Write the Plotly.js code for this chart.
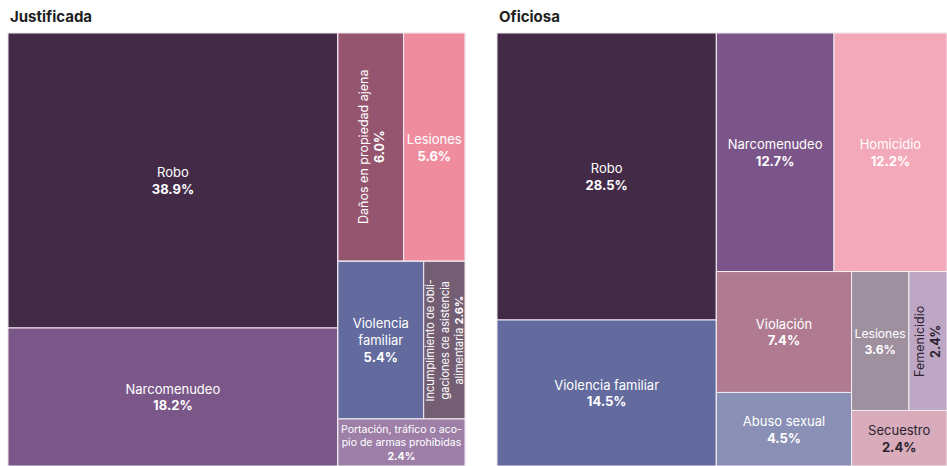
<!DOCTYPE html>
<html><head><meta charset="utf-8">
<script src="https://cdn.plot.ly/plotly-3.0.1.min.js"></script>
<style>html,body{margin:0;padding:0;background:#fff}#chart{width:947px;height:466px}</style>
</head><body><div id="chart"></div>
<script>
// ---- Data: Justificada ----
const justLabels = ['Robo','Narcomenudeo','Daños en propiedad ajena','Lesiones','Violencia familiar','Incumplimiento de obligaciones de asistencia alimentaria','Portación, tráfico o acopio de armas prohibidas'];
const justValues = [38.9, 18.2, 6.0, 5.6, 5.4, 2.6, 2.4];
const justDisplay = ['Robo','Narcomenudeo','Daños en propiedad ajena','Lesiones','Violencia<br>familiar','Incumplimiento de obli-<br>gaciones de asistencia<br>alimentaria','Portación, tráfico o aco-<br>pio de armas prohibidas'];
const justRotated = [false, false, true, false, false, true, false];
const justInline = [false, false, false, false, false, true, false];
const justGroups = ['A','A','C','C','E','E','D2'];
const justGroupNames = ['A','B','C','D','D2','E'];
const justGroupParents = ['','','B','B','D','D2'];
const justColors = ['#432a47','#7b5789','#96556f','#ef8d9f','#626a9e','#735e74','#9d7fa8'];
const justTextColors = ['#ffffff','#ffffff','#ffffff','#ffffff','#ffffff','#ffffff','#ffffff'];

// ---- Data: Oficiosa ----
const ofiLabels = ['Robo','Violencia familiar','Narcomenudeo','Homicidio','Violación','Abuso sexual','Lesiones','Femenicidio','Secuestro'];
const ofiValues = [28.5, 14.5, 12.7, 12.2, 7.4, 4.5, 3.6, 2.4, 2.4];
const ofiDisplay = ['Robo','Violencia familiar','Narcomenudeo','Homicidio','Violación','Abuso sexual','Lesiones','Femenicidio','Secuestro'];
const ofiRotated = [false, false, false, false, false, false, false, true, false];
const ofiInline = [false, false, false, false, false, false, false, false, false];
const ofiGroups = ['A','A','C','C','F','F','H','H','G'];
const ofiGroupNames = ['A','B','C','D','F','G','H'];
const ofiGroupParents = ['','','B','B','D','D','G'];
const ofiColors = ['#432a47','#626a9e','#7b5589','#f4a9ba','#b07b91','#8a90b5','#9e909f','#bea7c4','#d8acbb'];
const ofiTextColors = ['#ffffff','#ffffff','#ffffff','#ffffff','#ffffff','#ffffff','#ffffff','#2b2230','#2b2230'];

const FONT = 'Inter, "Noto Sans", sans-serif';
const ROT_FONT_SIZE = {'Incumplimiento de obligaciones de asistencia alimentaria': 11};
const rotatedInfo = {};

function buildTrace(name, labels, values, display, rotated, inline, groups, groupNames, groupParents, colors, textColors, domainX) {
  const ids = [name], parents = [''], vals = [0], labs = [name], cols = ['rgba(0,0,0,0)'], texts = [''], tcols = ['#ffffff'];
  groupNames.forEach((g, i) => {
    ids.push(name + '/' + g);
    parents.push(groupParents[i] ? name + '/' + groupParents[i] : name);
    vals.push(0); labs.push(g); cols.push('rgba(0,0,0,0)'); texts.push(''); tcols.push('#ffffff');
  });
  labels.forEach((l, i) => {
    const id = name + ':' + l;
    const pct = '<b>' + values[i].toFixed(1) + '%</b>';
    const full = display[i] + (inline[i] ? ' ' : '<br>') + pct;
    ids.push(id);
    parents.push(name + '/' + groups[i]);
    vals.push(values[i]);
    labs.push(l);
    cols.push(colors[i]);
    texts.push(rotated[i] ? '' : full);
    tcols.push(textColors[i]);
    if (rotated[i]) rotatedInfo[id] = {text: full, color: textColors[i], size: ROT_FONT_SIZE[l] || 12.5};
  });
  return {
    type: 'treemap', ids: ids, parents: parents, labels: labs, values: vals,
    branchvalues: 'remainder', sort: false,
    text: texts, textinfo: 'text', textposition: 'middle center',
    textfont: {family: FONT, size: 13, color: tcols},
    marker: {colors: cols, line: {width: 1, color: '#f3eef3'}, pad: {t: 0, l: 0, r: 0, b: 0}},
    tiling: {packing: 'slice-dice', pad: 0},
    pathbar: {visible: false}, leaf: {opacity: 1},
    hoverinfo: 'none',
    domain: {x: domainX, y: [0, 1]}
  };
}

const traces = [
  buildTrace('Justificada', justLabels, justValues, justDisplay, justRotated, justInline, justGroups, justGroupNames, justGroupParents, justColors, justTextColors, [0, 457/939]),
  buildTrace('Oficiosa', ofiLabels, ofiValues, ofiDisplay, ofiRotated, ofiInline, ofiGroups, ofiGroupNames, ofiGroupParents, ofiColors, ofiTextColors, [489/939, 1])
];

const titleAnns = [
  {text: '<b>Justificada</b>', xref: 'paper', yref: 'paper', x: 0, y: 1 + 17/433, xanchor: 'left', yanchor: 'middle', showarrow: false, font: {family: FONT, size: 15, color: '#222222'}},
  {text: '<b>Oficiosa</b>', xref: 'paper', yref: 'paper', x: 489/939, y: 1 + 17/433, xanchor: 'left', yanchor: 'middle', showarrow: false, font: {family: FONT, size: 15, color: '#222222'}}
];

const layout = {
  width: 947, height: 466,
  margin: {l: 8, r: 0, t: 33, b: 0, pad: 0},
  paper_bgcolor: '#ffffff',
  font: {family: FONT},
  showlegend: false,
  annotations: titleAnns
};

const gd = document.getElementById('chart');
Plotly.newPlot(gd, traces, layout, {displayModeBar: false}).then(() => {
  const gdRect = gd.getBoundingClientRect();
  const sz = gd._fullLayout._size;
  const anns = titleAnns.slice();
  gd.querySelectorAll('g.slice').forEach(el => {
    const d = el.__data__;
    const id = d && d.data && d.data.data && d.data.data.id;
    if (id && rotatedInfo[id]) {
      const p = el.querySelector('path');
      const r = p.getBoundingClientRect();
      const cx = r.left + r.width / 2 - gdRect.left;
      const cy = r.top + r.height / 2 - gdRect.top;
      anns.push({
        text: rotatedInfo[id].text, textangle: -90,
        xref: 'paper', yref: 'paper',
        x: (cx - sz.l) / sz.w, y: 1 - (cy - sz.t) / sz.h,
        xanchor: 'center', yanchor: 'middle', showarrow: false, align: 'center',
        font: {family: FONT, size: rotatedInfo[id].size, color: rotatedInfo[id].color}
      });
    }
  });
  return Plotly.relayout(gd, {annotations: anns});
});
</script>
</body></html>
